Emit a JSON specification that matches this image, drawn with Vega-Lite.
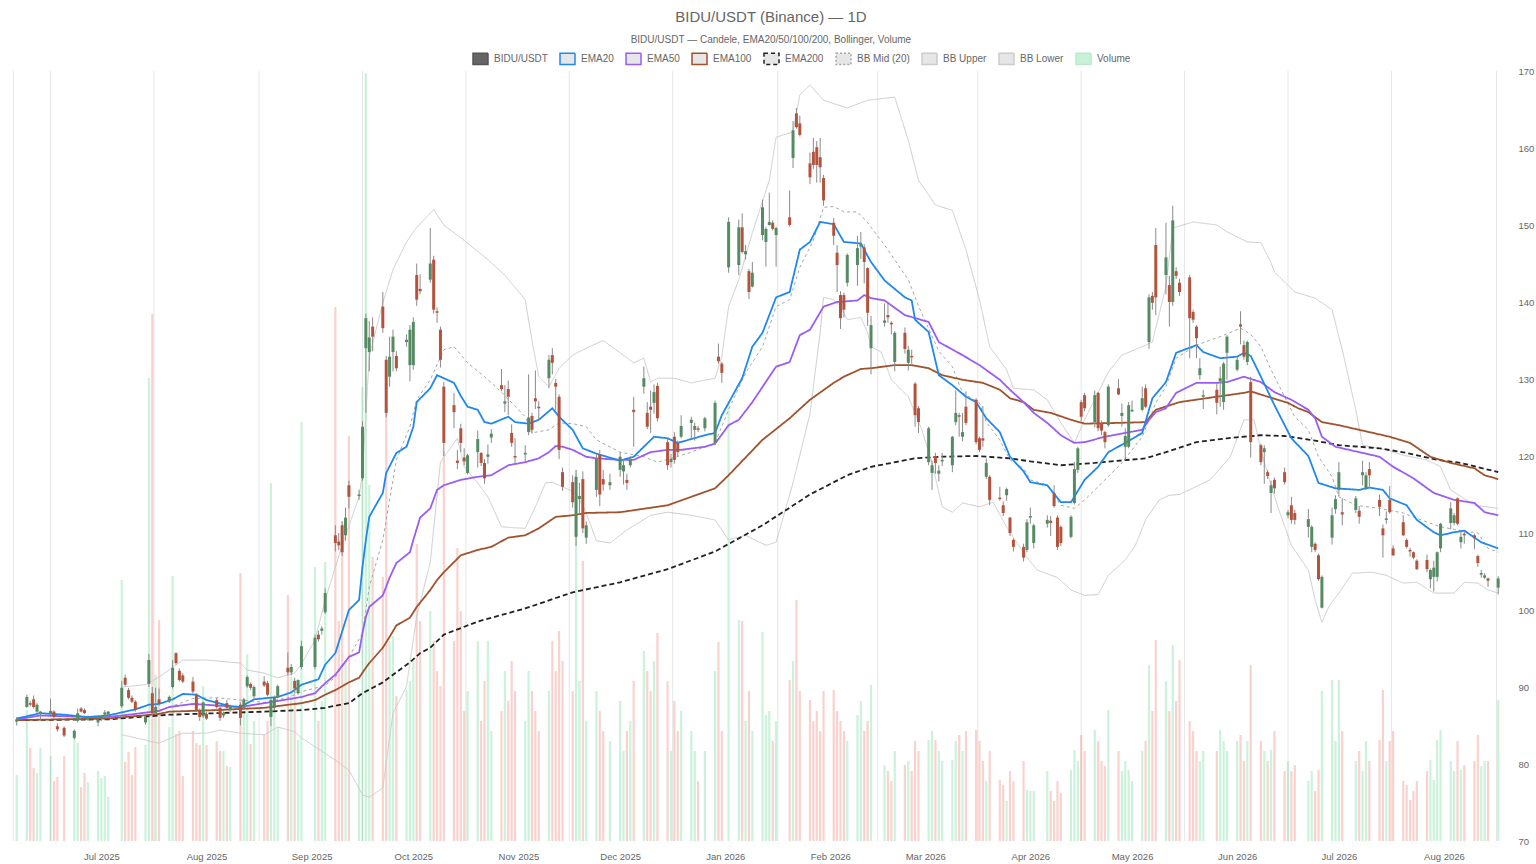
{
  "$schema": "https://vega.github.io/schema/vega-lite/v6.json",
  "description": "BIDU/USDT daily candles with EMAs, Bollinger bands and volume",
  "width": 1500,
  "height": 770,
  "autosize": {"type": "none"},
  "padding": {"left": 8, "top": 71, "right": 28, "bottom": 23},
  "background": "white",
  "title": {
    "text": "BIDU/USDT (Binance) — 1D",
    "subtitle": "BIDU/USDT — Candele, EMA20/50/100/200, Bollinger, Volume",
    "anchor": "middle",
    "frame": "bounds",
    "font": "Liberation Sans",
    "fontSize": 15,
    "fontWeight": "normal",
    "color": "#666666",
    "subtitleFont": "Liberation Sans",
    "subtitleFontSize": 10,
    "subtitleColor": "#666666",
    "subtitlePadding": 10,
    "offset": 5
  },
  "config": {
    "view": {"stroke": null},
    "font": "Liberation Sans",
    "axisY": {"labelFontSize": 9.5, "labelColor": "#666666", "labelFont": "Liberation Sans", "ticks": false, "domain": false, "gridColor": "#e8e8e8", "gridDash": [3, 3], "labelPadding": 10, "title": null},
    "axisX": {"labelFontSize": 9.5, "labelColor": "#666666", "labelFont": "Liberation Sans", "ticks": false, "domain": false, "grid": false, "labelPadding": 10, "title": null}
  },
  "data": {
    "values": "d,o,h,l,c,v\n2025-06-06,85.5,86.1,85.0,85.8,66\n2025-06-09,87.4,89.0,87.3,88.7,131\n2025-06-10,87.9,88.2,87.5,87.7,93\n2025-06-11,88.4,88.9,87.2,87.4,73\n2025-06-12,86.8,87.9,86.6,87.7,68\n2025-06-13,86.6,86.9,85.7,86.8,93\n2025-06-16,86.5,88.5,86.4,86.9,85\n2025-06-17,86.8,87.0,85.9,86.1,60\n2025-06-18,84.9,85.3,84.2,84.5,64\n2025-06-20,84.7,84.9,83.5,83.7,85\n2025-06-23,83.4,84.5,83.2,84.3,111\n2025-06-24,85.6,87.2,85.4,86.6,98\n2025-06-25,87.2,87.4,86.7,86.8,54\n2025-06-26,87.0,87.2,86.5,86.6,68\n2025-06-27,85.8,86.3,85.6,86.1,59\n2025-06-30,85.4,85.9,84.9,85.7,70\n2025-07-01,85.9,86.4,85.6,86.2,63\n2025-07-02,86.4,87.0,86.2,86.7,65\n2025-07-03,86.4,86.9,86.2,86.8,44\n2025-07-07,87.5,90.8,87.3,89.9,261\n2025-07-08,91.2,91.6,90.1,90.3,79\n2025-07-09,89.6,89.9,88.4,88.6,89\n2025-07-10,88.6,88.9,87.9,88.1,66\n2025-07-11,88.1,88.3,86.8,87.0,94\n2025-07-14,85.4,86.3,85.1,86.1,96\n2025-07-15,90.4,94.3,90.0,93.5,463\n2025-07-16,89.2,90.0,86.3,86.6,527\n2025-07-17,86.6,89.9,86.4,87.4,166\n2025-07-18,88.4,89.8,87.6,87.8,221\n2025-07-21,88.1,88.9,87.9,88.7,114\n2025-07-22,90.0,93.5,89.8,92.5,265\n2025-07-23,94.4,94.5,92.9,93.1,107\n2025-07-24,92.1,92.4,90.7,90.9,110\n2025-07-25,91.5,91.8,90.5,90.7,65\n2025-07-28,90.7,91.3,89.2,89.4,110\n2025-07-29,89.0,89.2,86.9,87.0,98\n2025-07-30,87.0,87.2,85.6,86.1,96\n2025-07-31,86.2,88.1,86.0,88.0,155\n2025-08-01,86.5,86.8,85.7,85.9,96\n2025-08-04,88.3,88.6,87.2,87.4,100\n2025-08-05,87.3,87.5,85.6,86.0,90\n2025-08-06,86.3,86.8,86.0,86.6,90\n2025-08-07,87.9,88.3,87.1,87.3,75\n2025-08-08,87.0,87.7,86.8,87.5,74\n2025-08-11,87.7,88.0,85.0,86.0,268\n2025-08-12,87.3,88.6,87.1,88.4,128\n2025-08-13,90.1,91.5,89.9,91.3,187\n2025-08-14,90.4,90.6,89.6,89.9,97\n2025-08-15,88.8,90.2,88.5,90.0,120\n2025-08-18,90.7,91.4,90.0,90.2,106\n2025-08-19,90.5,90.8,88.8,89.0,120\n2025-08-20,86.1,88.6,84.9,88.3,358\n2025-08-21,87.3,88.9,87.0,88.7,135\n2025-08-22,88.7,90.3,88.5,90.1,114\n2025-08-25,92.5,94.5,91.5,91.9,246\n2025-08-26,91.9,93.0,91.5,92.6,164\n2025-08-27,90.8,91.2,89.2,89.8,150\n2025-08-28,89.2,91.0,89.0,90.9,101\n2025-08-29,92.6,96.0,92.3,95.3,419\n2025-09-02,92.6,96.8,92.3,96.4,274\n2025-09-03,96.8,97.3,95.9,96.2,120\n2025-09-04,97.3,97.9,96.8,97.6,140\n2025-09-05,99.7,102.8,99.5,102.2,279\n2025-09-08,109.7,111.0,107.6,108.7,534\n2025-09-09,108.9,110.0,107.8,108.4,220\n2025-09-10,111.0,111.5,107.0,107.5,320\n2025-09-11,109.7,113.3,109.0,112.0,180\n2025-09-12,116.2,116.8,113.2,114.7,405\n2025-09-15,114.8,115.6,114.3,115.0,150\n2025-09-16,117.1,124.5,116.8,123.8,454\n2025-09-17,134.0,138.5,125.6,137.9,768\n2025-09-18,133.5,137.5,131.0,135.4,356\n2025-09-19,136.8,138.0,133.6,135.5,284\n2025-09-22,139.4,141.3,136.0,136.6,264\n2025-09-23,132.5,133.0,125.0,125.6,433\n2025-09-24,130.3,135.5,129.0,132.9,200\n2025-09-25,133.5,136.4,131.0,135.5,205\n2025-09-26,133.0,133.6,131.0,131.4,145\n2025-09-29,134.8,135.8,134.2,135.1,151\n2025-09-30,131.8,137.0,129.7,136.4,160\n2025-10-01,131.8,138.0,131.2,137.4,180\n2025-10-02,143.5,145.0,139.5,140.3,297\n2025-10-03,141.7,143.6,141.0,141.4,220\n2025-10-06,142.9,149.6,142.5,145.0,230\n2025-10-07,145.5,146.0,138.5,139.0,200\n2025-10-08,138.8,139.3,137.3,138.6,170\n2025-10-09,136.4,136.8,131.5,132.5,155\n2025-10-10,129.0,129.6,120.0,121.7,390\n2025-10-13,126.6,128.2,123.6,125.7,200\n2025-10-14,119.4,120.8,118.3,119.1,293\n2025-10-15,123.6,124.2,120.5,121.7,230\n2025-10-16,119.8,121.0,118.8,119.3,130\n2025-10-17,117.8,120.3,117.6,120.1,150\n2025-10-20,120.5,123.3,118.5,122.2,200\n2025-10-21,120.4,120.5,118.7,119.1,120\n2025-10-22,119.1,119.6,116.4,117.1,160\n2025-10-23,119.9,121.5,119.0,120.2,200\n2025-10-24,122.4,123.5,121.7,122.9,110\n2025-10-27,129.2,131.3,128.4,128.7,130\n2025-10-28,126.8,129.2,125.7,127.1,170\n2025-10-29,128.7,129.8,125.3,127.7,140\n2025-10-30,123.0,124.1,121.2,121.7,180\n2025-10-31,120.0,122.3,119.0,119.8,150\n2025-11-03,120.2,121.4,119.3,120.4,120\n2025-11-04,123.1,130.6,122.7,125.0,170\n2025-11-05,125.2,125.6,122.9,123.4,150\n2025-11-06,127.5,131.1,126.1,127.1,130\n2025-11-07,126.4,127.1,124.8,126.2,110\n2025-11-10,130.1,133.1,128.8,132.5,150\n2025-11-11,133.1,134.0,130.6,132.1,200\n2025-11-12,129.5,130.0,125.9,129.0,170\n2025-11-13,127.7,128.0,119.6,120.8,210\n2025-11-14,117.9,118.5,115.5,116.0,180\n2025-11-17,116.6,117.5,113.3,114.0,150\n2025-11-18,109.5,118.2,108.3,117.3,371\n2025-11-19,114.4,116.5,112.4,114.8,160\n2025-11-20,117.0,118.0,110.0,110.6,280\n2025-11-21,109.4,111.5,108.6,111.0,120\n2025-11-24,115.6,120.2,114.7,119.6,150\n2025-11-25,120.2,120.8,113.5,115.0,130\n2025-11-26,117.0,118.2,115.5,116.3,110\n2025-11-28,116.2,117.7,115.6,116.6,100\n2025-12-01,118.2,120.5,117.3,119.9,140\n2025-12-02,118.0,119.6,116.3,118.8,90\n2025-12-03,116.9,117.7,115.6,116.5,110\n2025-12-04,118.8,120.0,118.5,119.5,120\n2025-12-05,126.0,127.7,121.2,125.7,160\n2025-12-08,129.0,131.6,128.1,130.1,190\n2025-12-09,125.6,127.0,123.5,123.8,170\n2025-12-10,126.4,128.5,123.0,126.0,150\n2025-12-11,126.9,129.3,125.5,128.3,180\n2025-12-12,129.1,129.5,124.5,124.9,208\n2025-12-15,121.8,122.4,118.2,118.8,160\n2025-12-16,119.2,120.3,118.5,119.6,90\n2025-12-17,122.5,123.1,119.0,119.5,140\n2025-12-18,121.7,122.0,120.0,120.5,110\n2025-12-19,122.5,125.3,122.3,123.9,130\n2025-12-22,124.3,125.1,122.3,124.7,110\n2025-12-23,123.4,124.3,122.0,123.9,90\n2025-12-24,123.6,123.9,123.1,123.4,60\n2025-12-26,123.6,125.1,123.2,124.9,90\n2025-12-29,121.7,127.2,121.4,126.9,170\n2025-12-30,132.9,134.6,132.0,132.3,199\n2025-12-31,132.0,132.2,129.5,130.8,110\n2026-01-02,144.5,151.0,143.8,150.4,440\n2026-01-05,144.8,150.7,143.5,149.7,221\n2026-01-06,149.7,151.5,146.3,146.5,220\n2026-01-07,146.2,147.4,145.5,146.6,120\n2026-01-08,144.0,144.3,140.4,141.3,150\n2026-01-09,142.0,145.2,141.9,143.8,110\n2026-01-12,148.7,153.3,148.0,152.3,209\n2026-01-13,147.8,149.7,144.6,149.5,126\n2026-01-14,150.0,154.2,149.9,150.4,130\n2026-01-15,150.3,150.6,149.3,149.5,100\n2026-01-16,148.7,149.8,144.6,149.6,120\n2026-01-20,151.0,154.5,149.8,150.0,161\n2026-01-21,158.7,163.5,157.4,162.3,180\n2026-01-22,164.5,165.2,162.5,162.7,241\n2026-01-23,163.2,164.2,161.5,161.7,150\n2026-01-26,158.0,159.4,155.3,156.2,141\n2026-01-27,159.5,161.3,157.3,157.8,120\n2026-01-28,160.1,160.9,155.5,157.8,130\n2026-01-29,158.8,161.3,155.5,157.5,110\n2026-01-30,156.1,156.5,152.5,153.2,150\n2026-02-02,150.3,150.9,147.4,148.6,151\n2026-02-03,146.4,147.4,141.3,144.8,130\n2026-02-04,140.9,141.4,136.5,137.9,120\n2026-02-05,140.9,141.2,138.0,139.0,110\n2026-02-06,142.5,146.3,142.0,146.1,100\n2026-02-09,144.8,148.6,142.1,147.0,126\n2026-02-10,147.2,149.1,145.6,147.6,140\n2026-02-11,147.1,147.5,142.4,145.2,110\n2026-02-12,144.4,144.5,136.9,138.6,120\n2026-02-13,134.0,138.2,130.6,137.0,156\n2026-02-17,137.3,139.8,136.8,137.6,76\n2026-02-18,138.3,140.0,137.3,138.0,70\n2026-02-19,137.3,137.5,135.8,137.1,60\n2026-02-20,132.2,136.2,131.0,136.0,90\n2026-02-23,136.0,136.7,133.3,133.9,76\n2026-02-24,132.1,134.3,131.1,133.8,80\n2026-02-25,133.0,133.8,132.0,132.8,70\n2026-02-26,129.4,129.6,123.8,125.3,100\n2026-02-27,126.2,126.5,123.0,124.4,90\n2026-03-02,119.2,123.8,118.8,123.6,101\n2026-03-03,117.8,119.4,115.6,118.8,110\n2026-03-04,120.0,120.4,117.7,119.1,101\n2026-03-05,117.7,118.8,116.7,118.1,90\n2026-03-06,119.3,120.4,118.7,119.5,80\n2026-03-09,118.8,122.6,117.9,122.5,81\n2026-03-10,124.4,128.5,124.0,125.6,100\n2026-03-11,125.3,125.6,122.5,125.1,106\n2026-03-12,122.5,125.6,121.9,123.1,90\n2026-03-13,126.4,128.4,124.0,124.3,110\n2026-03-16,127.3,127.5,121.5,121.8,111\n2026-03-17,122.3,122.5,120.5,120.8,100\n2026-03-18,122.3,126.5,121.2,122.0,80\n2026-03-19,117.3,119.7,117.0,119.1,60\n2026-03-20,117.3,117.5,113.6,114.3,90\n2026-03-23,114.6,116.0,114.2,114.4,61\n2026-03-24,113.6,114.1,112.2,112.6,56\n2026-03-25,114.9,115.9,114.2,115.7,40\n2026-03-26,112.0,112.1,109.6,110.0,70\n2026-03-27,109.1,109.3,107.6,108.2,60\n2026-03-30,108.2,108.6,106.3,106.8,80\n2026-03-31,107.8,111.8,107.5,111.4,51\n2026-04-01,112.0,113.3,111.2,112.2,50\n2026-04-02,108.7,111.2,108.0,111.0,50\n2026-04-06,111.2,112.3,110.7,111.7,70\n2026-04-07,111.6,112.2,109.6,111.3,50\n2026-04-08,115.2,116.2,113.3,113.5,40\n2026-04-09,112.0,112.3,107.8,108.2,60\n2026-04-10,110.8,111.0,108.3,108.7,48\n2026-04-13,109.5,112.3,109.3,112.1,71\n2026-04-14,113.9,119.2,113.7,118.3,91\n2026-04-15,118.2,121.2,117.8,121.0,80\n2026-04-16,127.0,127.3,124.5,125.1,106\n2026-04-17,127.9,128.2,125.8,126.2,90\n2026-04-20,124.4,128.5,123.7,127.9,111\n2026-04-21,128.2,128.3,123.2,123.6,100\n2026-04-22,124.2,124.6,122.7,123.3,80\n2026-04-23,123.1,123.3,121.0,121.8,75\n2026-04-24,124.0,129.3,123.8,129.0,131\n2026-04-27,128.8,130.0,127.9,128.0,90\n2026-04-28,125.2,126.8,123.8,125.6,70\n2026-04-29,121.2,123.6,119.5,122.6,80\n2026-04-30,121.2,127.0,121.0,126.6,71\n2026-05-01,125.8,127.2,125.7,126.0,60\n2026-05-04,126.0,129.0,125.8,127.5,90\n2026-05-05,128.8,129.3,126.2,126.4,100\n2026-05-06,134.8,141.0,133.9,140.6,176\n2026-05-07,140.8,141.3,139.0,139.9,130\n2026-05-08,147.4,149.6,138.3,140.6,201\n2026-05-11,143.5,150.3,141.0,145.8,160\n2026-05-12,142.2,143.4,136.8,140.0,130\n2026-05-13,140.0,152.5,139.5,150.6,196\n2026-05-14,144.0,144.5,143.0,143.4,140\n2026-05-15,142.5,143.0,140.8,141.3,181\n2026-05-18,143.2,143.5,132.7,137.9,120\n2026-05-19,138.7,139.0,137.3,137.7,110\n2026-05-20,136.8,137.0,132.7,135.3,90\n2026-05-21,130.5,132.7,129.9,131.4,80\n2026-05-22,127.7,128.6,126.1,127.9,90\n2026-05-26,128.6,129.5,125.4,126.9,90\n2026-05-27,129.7,131.6,126.4,130.1,111\n2026-05-28,127.0,132.2,126.0,132.0,100\n2026-05-29,133.4,135.7,129.9,135.5,90\n2026-06-01,131.2,133.0,131.0,132.5,100\n2026-06-02,137.1,138.8,134.5,136.8,106\n2026-06-03,134.4,135.0,132.5,132.9,80\n2026-06-04,132.2,135.0,131.8,134.8,100\n2026-06-05,129.6,130.3,119.8,121.8,176\n2026-06-08,121.4,121.6,118.8,119.2,100\n2026-06-09,120.5,121.4,116.4,121.0,90\n2026-06-10,117.9,118.2,117.0,117.4,80\n2026-06-11,115.2,116.8,112.6,116.2,91\n2026-06-12,116.9,117.2,115.1,115.8,110\n2026-06-15,117.9,118.5,116.3,116.6,70\n2026-06-16,112.3,113.0,111.9,112.7,80\n2026-06-17,113.6,114.7,111.2,111.7,70\n2026-06-18,112.6,113.0,111.1,111.7,76\n2026-06-22,110.8,113.1,109.4,111.8,60\n2026-06-23,108.2,111.0,107.5,110.8,70\n2026-06-24,108.6,108.8,107.5,107.8,50\n2026-06-25,107.1,107.3,103.8,104.0,71\n2026-06-26,100.3,104.5,100.2,104.3,150\n2026-06-29,109.4,113.3,108.5,112.3,161\n2026-06-30,113.1,114.9,112.5,114.4,100\n2026-07-01,115.6,119.2,114.8,117.9,161\n2026-07-02,112.7,114.5,111.0,112.4,110\n2026-07-06,113.0,114.8,112.6,114.5,80\n2026-07-07,112.9,113.5,111.2,112.1,90\n2026-07-08,117.5,119.4,116.2,117.9,70\n2026-07-09,115.8,117.9,115.6,117.5,100\n2026-07-10,118.3,119.2,115.8,117.5,80\n2026-07-13,114.3,115.0,112.2,113.4,101\n2026-07-14,110.6,111.1,106.8,109.7,151\n2026-07-15,111.7,112.8,111.2,111.9,80\n2026-07-16,114.3,116.1,112.5,112.7,100\n2026-07-17,108.0,108.4,107.0,107.1,110\n2026-07-20,111.4,112.3,109.6,109.7,60\n2026-07-21,109.1,109.3,108.0,108.2,56\n2026-07-22,107.8,108.1,106.9,107.6,41\n2026-07-23,107.5,107.6,106.6,106.8,50\n2026-07-24,106.4,106.6,105.2,105.3,60\n2026-07-27,106.5,107.2,104.9,105.3,70\n2026-07-28,104.0,105.4,102.8,105.2,81\n2026-07-29,104.3,106.4,102.4,105.5,61\n2026-07-30,104.3,107.6,103.7,107.5,101\n2026-07-31,108.0,111.3,107.5,111.2,111\n2026-08-03,111.3,114.0,110.5,113.2,80\n2026-08-04,111.3,112.6,111.0,112.3,70\n2026-08-05,114.5,114.6,111.0,111.2,100\n2026-08-06,108.8,110.2,108.0,109.5,71\n2026-08-07,109.9,110.2,108.6,109.7,76\n2026-08-10,109.7,109.9,107.9,109.3,80\n2026-08-11,107.0,107.2,105.6,106.1,106\n2026-08-12,104.6,105.2,104.2,104.8,75\n2026-08-13,104.2,104.8,104.0,104.5,80\n2026-08-14,104.1,104.2,103.0,103.8,80\n2026-08-17,102.9,104.4,102.0,104.1,141",
    "format": {"type": "csv", "parse": {"d": "date", "o": "number", "h": "number", "l": "number", "c": "number", "v": "number"}}
  },
  "layer": [
    {
      "data": {"values": [
        {"g": "2025-06-05T00:00:00Z"},
        {"g": "2025-06-16T00:00:00Z"}, {"g": "2025-07-16T12:00:00Z"}, {"g": "2025-08-16T12:00:00Z"},
        {"g": "2025-09-16T00:00:00Z"}, {"g": "2025-10-16T12:00:00Z"}, {"g": "2025-11-16T00:00:00Z"},
        {"g": "2025-12-16T12:00:00Z"}, {"g": "2026-01-16T12:00:00Z"}, {"g": "2026-02-15T00:00:00Z"},
        {"g": "2026-03-16T12:00:00Z"}, {"g": "2026-04-16T00:00:00Z"}, {"g": "2026-05-16T12:00:00Z"},
        {"g": "2026-06-16T00:00:00Z"}, {"g": "2026-07-16T12:00:00Z"}, {"g": "2026-08-16T12:00:00Z"}
      ]},
      "mark": {"type": "rule", "color": "#e6e6e6", "strokeWidth": 1},
      "encoding": {
        "x": {"field": "g", "type": "temporal",
          "scale": {"type": "utc", "domain": [{"year": 2025, "month": 6, "date": 4, "hours": 22, "utc": true}, {"year": 2026, "month": 8, "date": 18, "hours": 10, "utc": true}]},
          "axis": {"values": [{"year": 2025, "month": 7, "date": 1, "utc": true}, {"year": 2025, "month": 8, "date": 1, "utc": true}, {"year": 2025, "month": 9, "date": 1, "utc": true}, {"year": 2025, "month": 10, "date": 1, "utc": true}, {"year": 2025, "month": 11, "date": 1, "utc": true}, {"year": 2025, "month": 12, "date": 1, "utc": true}, {"year": 2026, "month": 1, "date": 1, "utc": true}, {"year": 2026, "month": 2, "date": 1, "utc": true}, {"year": 2026, "month": 3, "date": 1, "utc": true}, {"year": 2026, "month": 4, "date": 1, "utc": true}, {"year": 2026, "month": 5, "date": 1, "utc": true}, {"year": 2026, "month": 6, "date": 1, "utc": true}, {"year": 2026, "month": 7, "date": 1, "utc": true}, {"year": 2026, "month": 8, "date": 1, "utc": true}], "labelExpr": "utcFormat(datum.value, '%b %Y')"}
        }
      }
    },
    {
      "mark": {"type": "bar", "size": 2.2, "opacity": 0.25},
      "encoding": {
        "x": {"field": "d", "type": "temporal",
          "scale": {"type": "utc", "domain": [{"year": 2025, "month": 6, "date": 4, "hours": 22, "utc": true}, {"year": 2026, "month": 8, "date": 18, "hours": 10, "utc": true}]}},
        "y": {"field": "v", "type": "quantitative", "scale": {"domain": [0, 770], "nice": false, "zero": true}, "axis": null},
        "color": {"condition": {"test": "datum.c >= datum.o", "value": "#2ecc71"}, "value": "#e74c3c"}
      }
    },
    {
      "layer": [
        {
          "data": {
            "values": "d,s,p\n2025-07-07,up,90.0\n2025-07-14,up,90.3\n2025-07-18,up,91.3\n2025-07-25,up,93.5\n2025-08-01,up,93.5\n2025-08-11,up,93.1\n2025-08-13,up,92.2\n2025-08-18,up,91.8\n2025-08-22,up,91.2\n2025-08-27,up,91.8\n2025-08-29,up,93.0\n2025-09-02,up,96.1\n2025-09-05,up,101.3\n2025-09-10,up,108.4\n2025-09-15,up,114.7\n2025-09-16,up,117.8\n2025-09-18,up,132.9\n2025-09-22,up,139.9\n2025-09-25,up,144.2\n2025-09-29,up,147.8\n2025-10-02,up,149.7\n2025-10-07,up,152.0\n2025-10-10,up,150.0\n2025-10-16,up,148.0\n2025-10-23,up,145.5\n2025-10-28,up,143.5\n2025-11-03,up,140.3\n2025-11-05,up,135.0\n2025-11-07,up,130.3\n2025-11-10,up,129.0\n2025-11-13,up,131.4\n2025-11-17,up,133.1\n2025-11-21,up,134.0\n2025-11-26,up,135.0\n2025-12-01,up,133.4\n2025-12-05,up,132.1\n2025-12-08,up,132.7\n2025-12-10,up,129.6\n2025-12-12,up,130.1\n2025-12-17,up,130.1\n2025-12-22,up,129.5\n2025-12-29,up,130.1\n2025-12-31,up,132.9\n2026-01-02,up,139.4\n2026-01-05,up,142.9\n2026-01-09,up,149.0\n2026-01-14,up,155.8\n2026-01-16,up,161.4\n2026-01-21,up,162.1\n2026-01-23,up,166.9\n2026-01-26,up,168.2\n2026-01-30,up,166.2\n2026-02-06,up,165.2\n2026-02-12,up,166.2\n2026-02-20,up,166.6\n2026-02-24,up,161.0\n2026-02-27,up,155.8\n2026-03-04,up,152.6\n2026-03-09,up,151.9\n2026-03-13,up,146.8\n2026-03-17,up,140.3\n2026-03-20,up,134.2\n2026-03-25,up,131.2\n2026-03-27,up,128.8\n2026-04-02,up,128.6\n2026-04-06,up,127.3\n2026-04-10,up,124.3\n2026-04-14,up,121.7\n2026-04-17,up,124.7\n2026-04-24,up,130.9\n2026-04-28,up,133.1\n2026-05-04,up,134.2\n2026-05-07,up,134.8\n2026-05-11,up,142.0\n2026-05-13,up,149.6\n2026-05-19,up,150.4\n2026-05-26,up,150.0\n2026-05-29,up,149.1\n2026-06-04,up,147.8\n2026-06-08,up,147.7\n2026-06-11,up,145.1\n2026-06-12,up,143.9\n2026-06-18,up,141.3\n2026-06-24,up,140.5\n2026-06-29,up,139.0\n2026-07-02,up,133.8\n2026-07-06,up,126.0\n2026-07-08,up,121.4\n2026-07-15,up,120.8\n2026-07-20,up,120.1\n2026-07-27,up,119.5\n2026-07-31,up,118.6\n2026-08-03,up,115.6\n2026-08-10,up,113.6\n2026-08-17,up,113.2\n2025-07-07,lo,83.8\n2025-07-14,lo,83.1\n2025-07-18,lo,82.7\n2025-07-22,lo,83.5\n2025-07-25,lo,84.0\n2025-08-01,lo,84.0\n2025-08-05,lo,84.4\n2025-08-11,lo,84.0\n2025-08-18,lo,83.8\n2025-08-22,lo,84.8\n2025-08-27,lo,84.2\n2025-08-29,lo,83.4\n2025-09-08,lo,80.5\n2025-09-12,lo,79.2\n2025-09-16,lo,76.0\n2025-09-18,lo,75.7\n2025-09-22,lo,76.9\n2025-09-25,lo,86.6\n2025-09-29,lo,90.1\n2025-10-02,lo,99.2\n2025-10-06,lo,106.2\n2025-10-09,lo,119.2\n2025-10-14,lo,122.3\n2025-10-16,lo,118.6\n2025-10-20,lo,116.5\n2025-10-23,lo,114.7\n2025-10-27,lo,110.8\n2025-10-30,lo,110.7\n2025-11-03,lo,110.6\n2025-11-06,lo,113.4\n2025-11-09,lo,116.5\n2025-11-11,lo,116.6\n2025-11-14,lo,116.0\n2025-11-18,lo,115.2\n2025-11-21,lo,112.6\n2025-11-24,lo,109.0\n2025-11-28,lo,108.7\n2025-12-03,lo,110.4\n2025-12-10,lo,112.3\n2025-12-15,lo,112.7\n2025-12-22,lo,112.3\n2025-12-29,lo,111.7\n2026-01-02,lo,109.1\n2026-01-07,lo,109.7\n2026-01-13,lo,108.4\n2026-01-16,lo,108.8\n2026-01-21,lo,116.5\n2026-01-26,lo,125.5\n2026-01-29,lo,136.0\n2026-01-30,lo,140.6\n2026-02-02,lo,140.3\n2026-02-04,lo,139.4\n2026-02-06,lo,137.7\n2026-02-10,lo,138.0\n2026-02-12,lo,136.0\n2026-02-13,lo,134.2\n2026-02-16,lo,133.5\n2026-02-19,lo,129.9\n2026-02-24,lo,127.7\n2026-02-28,lo,123.4\n2026-03-03,lo,119.1\n2026-03-06,lo,113.4\n2026-03-09,lo,112.7\n2026-03-12,lo,113.9\n2026-03-17,lo,113.4\n2026-03-21,lo,114.0\n2026-03-25,lo,110.8\n2026-03-30,lo,107.4\n2026-04-03,lo,105.2\n2026-04-09,lo,104.2\n2026-04-13,lo,102.6\n2026-04-17,lo,101.9\n2026-04-21,lo,102.0\n2026-04-24,lo,104.5\n2026-04-29,lo,106.5\n2026-05-02,lo,108.4\n2026-05-05,lo,111.7\n2026-05-09,lo,114.3\n2026-05-12,lo,114.9\n2026-05-15,lo,115.0\n2026-05-24,lo,116.9\n2026-05-30,lo,119.9\n2026-06-03,lo,124.7\n2026-06-06,lo,124.7\n2026-06-08,lo,120.8\n2026-06-11,lo,116.2\n2026-06-13,lo,113.4\n2026-06-17,lo,108.4\n2026-06-22,lo,105.2\n2026-06-24,lo,101.3\n2026-06-26,lo,98.4\n2026-06-28,lo,100.4\n2026-07-01,lo,102.2\n2026-07-05,lo,104.8\n2026-07-11,lo,104.9\n2026-07-15,lo,104.5\n2026-07-20,lo,103.5\n2026-07-24,lo,103.6\n2026-07-29,lo,102.2\n2026-08-04,lo,102.2\n2026-08-07,lo,103.6\n2026-08-11,lo,103.5\n2026-08-14,lo,102.6\n2026-08-17,lo,102.2\n2025-07-07,mid,86.3\n2025-07-18,mid,86.9\n2025-07-28,mid,88.5\n2025-08-04,mid,88.6\n2025-08-11,mid,88.3\n2025-08-18,mid,88.0\n2025-08-25,mid,88.6\n2025-08-29,mid,89.4\n2025-09-05,mid,90.2\n2025-09-08,mid,91.3\n2025-09-12,mid,93.9\n2025-09-16,mid,97.0\n2025-09-18,mid,103.0\n2025-09-22,mid,109.1\n2025-09-24,mid,114.3\n2025-09-26,mid,119.5\n2025-09-30,mid,123.8\n2025-10-02,mid,127.3\n2025-10-06,mid,129.9\n2025-10-10,mid,133.8\n2025-10-13,mid,134.2\n2025-10-17,mid,132.1\n2025-10-22,mid,130.3\n2025-10-27,mid,128.3\n2025-11-03,mid,125.1\n2025-11-05,mid,123.0\n2025-11-10,mid,123.4\n2025-11-13,mid,124.3\n2025-11-17,mid,124.2\n2025-11-21,mid,123.8\n2025-11-24,mid,122.1\n2025-12-01,mid,120.5\n2025-12-08,mid,119.9\n2025-12-12,mid,119.2\n2025-12-17,mid,119.8\n2025-12-22,mid,120.5\n2025-12-29,mid,121.7\n2026-01-02,mid,126.0\n2026-01-07,mid,130.8\n2026-01-12,mid,134.2\n2026-01-16,mid,139.4\n2026-01-20,mid,140.3\n2026-01-23,mid,144.5\n2026-01-27,mid,148.0\n2026-01-30,mid,152.3\n2026-02-02,mid,152.4\n2026-02-05,mid,151.7\n2026-02-09,mid,151.7\n2026-02-12,mid,150.3\n2026-02-13,mid,149.7\n2026-02-17,mid,147.4\n2026-02-24,mid,142.9\n2026-02-27,mid,139.5\n2026-03-05,mid,133.6\n2026-03-09,mid,131.6\n2026-03-12,mid,128.2\n2026-03-17,mid,126.9\n2026-03-19,mid,124.4\n2026-03-23,mid,122.1\n2026-03-26,mid,119.5\n2026-03-30,mid,118.4\n2026-04-01,mid,116.9\n2026-04-06,mid,116.2\n2026-04-10,mid,113.6\n2026-04-14,mid,113.2\n2026-04-17,mid,114.3\n2026-04-23,mid,116.9\n2026-04-28,mid,119.1\n2026-05-04,mid,122.5\n2026-05-08,mid,126.9\n2026-05-11,mid,129.0\n2026-05-14,mid,132.7\n2026-05-20,mid,134.4\n2026-05-27,mid,135.5\n2026-06-02,mid,136.6\n2026-06-05,mid,135.8\n2026-06-08,mid,134.2\n2026-06-11,mid,131.2\n2026-06-15,mid,127.7\n2026-06-18,mid,125.1\n2026-06-22,mid,123.4\n2026-06-25,mid,119.9\n2026-06-29,mid,117.3\n2026-07-01,mid,114.7\n2026-07-06,mid,113.6\n2026-07-13,mid,113.2\n2026-07-20,mid,112.6\n2026-07-24,mid,111.9\n2026-07-31,mid,110.8\n2026-08-05,mid,110.4\n2026-08-11,mid,110.0\n2026-08-14,mid,108.0\n2026-08-17,mid,107.5\n2025-06-06,e200,85.7\n2025-07-03,e200,85.8\n2025-07-21,e200,86.4\n2025-08-18,e200,86.8\n2025-08-29,e200,87.0\n2025-09-05,e200,87.3\n2025-09-12,e200,87.9\n2025-09-16,e200,89.2\n2025-09-22,e200,90.6\n2025-09-26,e200,91.9\n2025-09-30,e200,93.2\n2025-10-03,e200,94.4\n2025-10-06,e200,95.1\n2025-10-10,e200,96.8\n2025-10-20,e200,98.5\n2025-11-03,e200,100.2\n2025-11-17,e200,102.3\n2025-12-01,e200,103.6\n2025-12-15,e200,105.3\n2025-12-29,e200,107.6\n2026-01-12,e200,111.0\n2026-01-26,e200,115.0\n2026-02-06,e200,117.5\n2026-02-13,e200,118.6\n2026-02-19,e200,119.1\n2026-02-26,e200,119.7\n2026-03-05,e200,119.9\n2026-03-16,e200,120.0\n2026-03-26,e200,119.7\n2026-04-01,e200,119.3\n2026-04-10,e200,118.8\n2026-04-20,e200,119.1\n2026-05-05,e200,119.7\n2026-05-11,e200,120.5\n2026-05-20,e200,121.8\n2026-05-29,e200,122.3\n2026-06-08,e200,122.7\n2026-06-15,e200,122.6\n2026-06-24,e200,122.0\n2026-07-01,e200,121.4\n2026-07-13,e200,121.0\n2026-07-21,e200,120.4\n2026-07-30,e200,119.5\n2026-08-06,e200,119.1\n2026-08-17,e200,117.9\n2025-06-06,e100,85.7\n2025-07-03,e100,85.9\n2025-07-18,e100,86.5\n2025-07-21,e100,86.8\n2025-08-04,e100,87.0\n2025-08-18,e100,87.3\n2025-08-29,e100,87.9\n2025-09-02,e100,88.3\n2025-09-05,e100,89.0\n2025-09-08,e100,89.6\n2025-09-12,e100,90.6\n2025-09-15,e100,91.2\n2025-09-17,e100,92.5\n2025-09-18,e100,93.1\n2025-09-22,e100,95.1\n2025-09-24,e100,96.5\n2025-09-26,e100,98.0\n2025-09-30,e100,99.0\n2025-10-02,e100,100.4\n2025-10-06,e100,102.6\n2025-10-08,e100,103.9\n2025-10-10,e100,104.9\n2025-10-15,e100,107.1\n2025-10-20,e100,107.8\n2025-10-24,e100,108.2\n2025-10-29,e100,109.4\n2025-11-03,e100,109.7\n2025-11-07,e100,110.6\n2025-11-12,e100,112.1\n2025-11-17,e100,112.3\n2025-11-21,e100,112.6\n2025-12-01,e100,112.7\n2025-12-15,e100,113.6\n2025-12-29,e100,115.8\n2026-01-02,e100,117.5\n2026-01-12,e100,122.1\n2026-01-20,e100,124.9\n2026-01-26,e100,127.3\n2026-02-02,e100,129.5\n2026-02-05,e100,130.3\n2026-02-10,e100,131.3\n2026-02-13,e100,131.4\n2026-02-20,e100,131.8\n2026-02-25,e100,131.8\n2026-03-02,e100,131.4\n2026-03-06,e100,130.5\n2026-03-12,e100,129.9\n2026-03-18,e100,129.5\n2026-03-23,e100,128.6\n2026-03-26,e100,127.5\n2026-03-30,e100,127.0\n2026-04-02,e100,126.0\n2026-04-07,e100,125.6\n2026-04-13,e100,124.7\n2026-04-17,e100,124.2\n2026-04-27,e100,124.3\n2026-05-05,e100,124.4\n2026-05-08,e100,126.0\n2026-05-15,e100,127.0\n2026-05-26,e100,127.7\n2026-06-03,e100,128.2\n2026-06-05,e100,128.4\n2026-06-10,e100,127.7\n2026-06-16,e100,126.9\n2026-06-19,e100,126.2\n2026-06-22,e100,125.7\n2026-06-26,e100,124.4\n2026-07-01,e100,124.0\n2026-07-10,e100,123.1\n2026-07-16,e100,122.5\n2026-07-22,e100,121.7\n2026-07-28,e100,119.9\n2026-08-03,e100,119.1\n2026-08-10,e100,118.4\n2026-08-13,e100,117.5\n2026-08-17,e100,117.0\n2025-06-06,e50,85.8\n2025-06-13,e50,86.3\n2025-06-27,e50,86.1\n2025-07-03,e50,86.1\n2025-07-11,e50,86.5\n2025-07-18,e50,86.9\n2025-07-21,e50,87.4\n2025-07-28,e50,87.8\n2025-08-04,e50,87.6\n2025-08-11,e50,87.4\n2025-08-18,e50,87.9\n2025-08-25,e50,88.4\n2025-08-29,e50,88.7\n2025-09-02,e50,89.2\n2025-09-05,e50,90.5\n2025-09-08,e50,91.6\n2025-09-12,e50,93.9\n2025-09-15,e50,94.5\n2025-09-16,e50,97.0\n2025-09-17,e50,99.1\n2025-09-18,e50,100.4\n2025-09-22,e50,101.9\n2025-09-24,e50,104.2\n2025-09-26,e50,106.1\n2025-09-30,e50,107.5\n2025-10-01,e50,109.1\n2025-10-03,e50,112.0\n2025-10-06,e50,113.2\n2025-10-08,e50,115.6\n2025-10-10,e50,116.2\n2025-10-15,e50,116.9\n2025-10-20,e50,117.3\n2025-10-24,e50,117.5\n2025-10-29,e50,118.8\n2025-11-03,e50,119.2\n2025-11-07,e50,119.7\n2025-11-10,e50,120.5\n2025-11-12,e50,121.3\n2025-11-14,e50,121.2\n2025-11-17,e50,120.8\n2025-11-21,e50,119.9\n2025-11-24,e50,119.7\n2025-12-01,e50,119.5\n2025-12-05,e50,119.5\n2025-12-10,e50,120.5\n2025-12-15,e50,120.8\n2025-12-19,e50,120.8\n2025-12-26,e50,121.2\n2025-12-29,e50,121.6\n2026-01-02,e50,124.0\n2026-01-05,e50,124.7\n2026-01-09,e50,127.0\n2026-01-14,e50,130.3\n2026-01-16,e50,131.6\n2026-01-20,e50,132.2\n2026-01-23,e50,135.7\n2026-01-26,e50,136.4\n2026-01-30,e50,139.4\n2026-02-03,e50,140.0\n2026-02-09,e50,140.2\n2026-02-11,e50,140.9\n2026-02-13,e50,140.5\n2026-02-17,e50,140.2\n2026-02-23,e50,138.3\n2026-03-02,e50,137.4\n2026-03-05,e50,134.8\n2026-03-12,e50,133.1\n2026-03-17,e50,131.8\n2026-03-23,e50,129.9\n2026-03-26,e50,128.6\n2026-03-30,e50,127.0\n2026-04-02,e50,125.6\n2026-04-06,e50,124.3\n2026-04-10,e50,122.7\n2026-04-14,e50,121.7\n2026-04-17,e50,121.8\n2026-04-23,e50,122.5\n2026-04-29,e50,123.0\n2026-05-04,e50,123.4\n2026-05-06,e50,124.7\n2026-05-08,e50,125.7\n2026-05-11,e50,126.2\n2026-05-14,e50,128.2\n2026-05-20,e50,129.5\n2026-05-26,e50,129.5\n2026-05-29,e50,129.6\n2026-06-03,e50,130.3\n2026-06-08,e50,129.6\n2026-06-12,e50,128.3\n2026-06-17,e50,127.3\n2026-06-22,e50,126.0\n2026-06-24,e50,124.9\n2026-06-26,e50,122.5\n2026-06-30,e50,121.2\n2026-07-07,e50,120.5\n2026-07-13,e50,119.9\n2026-07-17,e50,118.6\n2026-07-23,e50,117.1\n2026-07-29,e50,115.2\n2026-08-04,e50,114.3\n2026-08-10,e50,113.9\n2026-08-13,e50,112.7\n2026-08-17,e50,112.3\n2025-06-06,e20,85.9\n2025-06-13,e20,86.6\n2025-06-20,e20,86.4\n2025-06-27,e20,86.1\n2025-07-03,e20,86.3\n2025-07-08,e20,86.8\n2025-07-11,e20,87.1\n2025-07-15,e20,87.7\n2025-07-18,e20,87.8\n2025-07-22,e20,88.4\n2025-07-25,e20,89.1\n2025-07-29,e20,89.0\n2025-08-01,e20,88.3\n2025-08-08,e20,87.5\n2025-08-11,e20,87.4\n2025-08-15,e20,88.4\n2025-08-22,e20,88.7\n2025-08-26,e20,89.3\n2025-08-29,e20,90.3\n2025-09-03,e20,91.0\n2025-09-05,e20,92.9\n2025-09-08,e20,94.4\n2025-09-12,e20,100.0\n2025-09-15,e20,101.3\n2025-09-16,e20,105.6\n2025-09-17,e20,109.1\n2025-09-18,e20,112.1\n2025-09-22,e20,115.2\n2025-09-23,e20,117.8\n2025-09-26,e20,120.4\n2025-09-29,e20,121.2\n2025-10-01,e20,123.8\n2025-10-02,e20,127.0\n2025-10-06,e20,128.8\n2025-10-08,e20,130.5\n2025-10-09,e20,130.3\n2025-10-13,e20,129.5\n2025-10-15,e20,127.8\n2025-10-17,e20,126.4\n2025-10-20,e20,126.0\n2025-10-22,e20,124.4\n2025-10-24,e20,124.2\n2025-10-29,e20,125.1\n2025-10-31,e20,124.4\n2025-11-04,e20,124.2\n2025-11-07,e20,124.7\n2025-11-11,e20,126.2\n2025-11-13,e20,125.1\n2025-11-17,e20,123.4\n2025-11-20,e20,121.0\n2025-11-24,e20,120.3\n2025-12-01,e20,119.4\n2025-12-05,e20,119.9\n2025-12-08,e20,121.2\n2025-12-11,e20,122.5\n2025-12-15,e20,122.3\n2025-12-18,e20,121.7\n2025-12-22,e20,122.2\n2025-12-26,e20,122.7\n2025-12-29,e20,123.0\n2025-12-31,e20,125.3\n2026-01-02,e20,126.9\n2026-01-06,e20,130.1\n2026-01-09,e20,134.2\n2026-01-12,e20,136.0\n2026-01-16,e20,140.6\n2026-01-20,e20,141.3\n2026-01-23,e20,146.8\n2026-01-26,e20,147.8\n2026-01-29,e20,150.4\n2026-02-02,e20,150.1\n2026-02-05,e20,147.8\n2026-02-10,e20,147.6\n2026-02-13,e20,145.2\n2026-02-17,e20,142.8\n2026-02-23,e20,140.6\n2026-02-25,e20,140.2\n2026-02-26,e20,137.7\n2026-03-02,e20,136.1\n2026-03-05,e20,130.5\n2026-03-09,e20,129.2\n2026-03-13,e20,127.7\n2026-03-16,e20,127.0\n2026-03-19,e20,124.9\n2026-03-23,e20,123.1\n2026-03-26,e20,119.9\n2026-03-30,e20,118.0\n2026-04-01,e20,116.6\n2026-04-06,e20,116.2\n2026-04-10,e20,114.0\n2026-04-13,e20,114.0\n2026-04-17,e20,116.9\n2026-04-21,e20,118.6\n2026-04-24,e20,120.5\n2026-04-29,e20,121.7\n2026-05-04,e20,123.0\n2026-05-07,e20,127.5\n2026-05-11,e20,129.6\n2026-05-14,e20,133.4\n2026-05-20,e20,134.4\n2026-05-22,e20,133.5\n2026-05-27,e20,132.7\n2026-06-01,e20,132.9\n2026-06-03,e20,133.4\n2026-06-05,e20,133.0\n2026-06-08,e20,130.3\n2026-06-12,e20,126.6\n2026-06-17,e20,122.3\n2026-06-22,e20,120.0\n2026-06-25,e20,116.5\n2026-06-30,e20,115.8\n2026-07-07,e20,115.6\n2026-07-10,e20,115.9\n2026-07-14,e20,115.6\n2026-07-16,e20,114.5\n2026-07-21,e20,113.6\n2026-07-24,e20,111.7\n2026-07-29,e20,110.1\n2026-07-31,e20,109.7\n2026-08-04,e20,110.1\n2026-08-07,e20,110.3\n2026-08-12,e20,108.8\n2026-08-17,e20,108.0",
            "format": {"type": "csv", "parse": {"d": "date", "p": "number"}}
          },
          "encoding": {
            "x": {"field": "d", "type": "temporal",
              "scale": {"type": "utc", "domain": [{"year": 2025, "month": 6, "date": 4, "hours": 22, "utc": true}, {"year": 2026, "month": 8, "date": 18, "hours": 10, "utc": true}]}},
            "y": {"field": "p", "type": "quantitative", "scale": {"domain": [70, 170], "nice": false, "zero": false},
              "axis": {"orient": "right", "values": [70, 80, 90, 100, 110, 120, 130, 140, 150, 160, 170]}},
            "color": {
              "field": "s", "type": "nominal",
              "scale": {
                "domain": ["bidu", "e20", "e50", "e100", "e200", "mid", "up", "lo", "vol"],
                "range": ["#555555", "#1e88f0", "#9b5cf6", "#a0522d", "#222222", "#a6a6a6", "#cccccc", "#cccccc", "#b9ebcb"]
              },
              "legend": {
                "orient": "none", "legendX": 464, "legendY": -21, "direction": "horizontal", "title": null,
                "labelExpr": "datum.value === 'bidu' ? 'BIDU/USDT' : datum.value === 'e20' ? 'EMA20' : datum.value === 'e50' ? 'EMA50' : datum.value === 'e100' ? 'EMA100' : datum.value === 'e200' ? 'EMA200' : datum.value === 'mid' ? 'BB Mid (20)' : datum.value === 'up' ? 'BB Upper' : datum.value === 'lo' ? 'BB Lower' : 'Volume'",
                "labelFont": "Liberation Sans", "labelFontSize": 10, "labelColor": "#666666", "labelOffset": 5, "columnPadding": 9,
                "symbolType": "M-1,-0.75H1V0.75H-1Z", "symbolSize": 225, "symbolStrokeWidth": 1.5,
                "encode": {"symbols": {"update": {
                  "fill": {"signal": "datum.value === 'bidu' ? '#666666' : datum.value === 'vol' ? '#c9f0d8' : '#e6e6e6'"},
                  "stroke": {"signal": "datum.value === 'bidu' ? '#555555' : datum.value === 'e20' ? '#1e88f0' : datum.value === 'e50' ? '#9b5cf6' : datum.value === 'e100' ? '#a0522d' : datum.value === 'e200' ? '#222222' : datum.value === 'mid' ? '#bbbbbb' : datum.value === 'vol' ? '#c9f0d8' : '#d9d9d9'"},
                  "strokeDash": {"signal": "datum.value === 'e200' ? [4, 3] : datum.value === 'mid' ? [2, 2] : [1, 0]"},
                  "strokeWidth": {"value": 1.5},
                  "opacity": {"value": 1}
                }}}
              }
            },
            "strokeDash": {
              "field": "s", "type": "nominal",
              "scale": {"domain": ["e20", "e50", "e100", "e200", "mid", "up", "lo"], "range": [[1, 0], [1, 0], [1, 0], [5, 3], [3, 3], [1, 0], [1, 0]]},
              "legend": null
            }
          },
          "layer": [
            {
              "transform": [{"filter": {"field": "s", "oneOf": ["up", "lo", "mid"]}}],
              "mark": {"type": "line", "strokeWidth": 1}
            },
            {
              "transform": [{"filter": {"field": "s", "oneOf": ["e200", "e100", "e50", "e20"]}}],
              "mark": {"type": "line", "strokeWidth": 1.8}
            }
          ]
        },
        {
          "mark": {"type": "rule", "color": "#8a8a8a", "strokeWidth": 1},
          "encoding": {
            "x": {"field": "d", "type": "temporal",
              "scale": {"type": "utc", "domain": [{"year": 2025, "month": 6, "date": 4, "hours": 22, "utc": true}, {"year": 2026, "month": 8, "date": 18, "hours": 10, "utc": true}]}},
            "y": {"field": "l", "type": "quantitative", "scale": {"domain": [70, 170], "nice": false, "zero": false},
              "axis": {"orient": "right", "values": [70, 80, 90, 100, 110, 120, 130, 140, 150, 160, 170]}},
            "y2": {"field": "h"}
          }
        },
        {
          "mark": {"type": "bar", "size": 3},
          "encoding": {
            "x": {"field": "d", "type": "temporal",
              "scale": {"type": "utc", "domain": [{"year": 2025, "month": 6, "date": 4, "hours": 22, "utc": true}, {"year": 2026, "month": 8, "date": 18, "hours": 10, "utc": true}]}},
            "y": {"field": "o", "type": "quantitative", "scale": {"domain": [70, 170], "nice": false, "zero": false},
              "axis": {"orient": "right", "values": [70, 80, 90, 100, 110, 120, 130, 140, 150, 160, 170]}},
            "y2": {"field": "c"},
            "color": {"condition": {"test": "datum.c >= datum.o", "value": "#558b62"}, "value": "#b4533d"}
          }
        }
      ]
    }
  ],
  "resolve": {"scale": {"y": "independent"}}
}
